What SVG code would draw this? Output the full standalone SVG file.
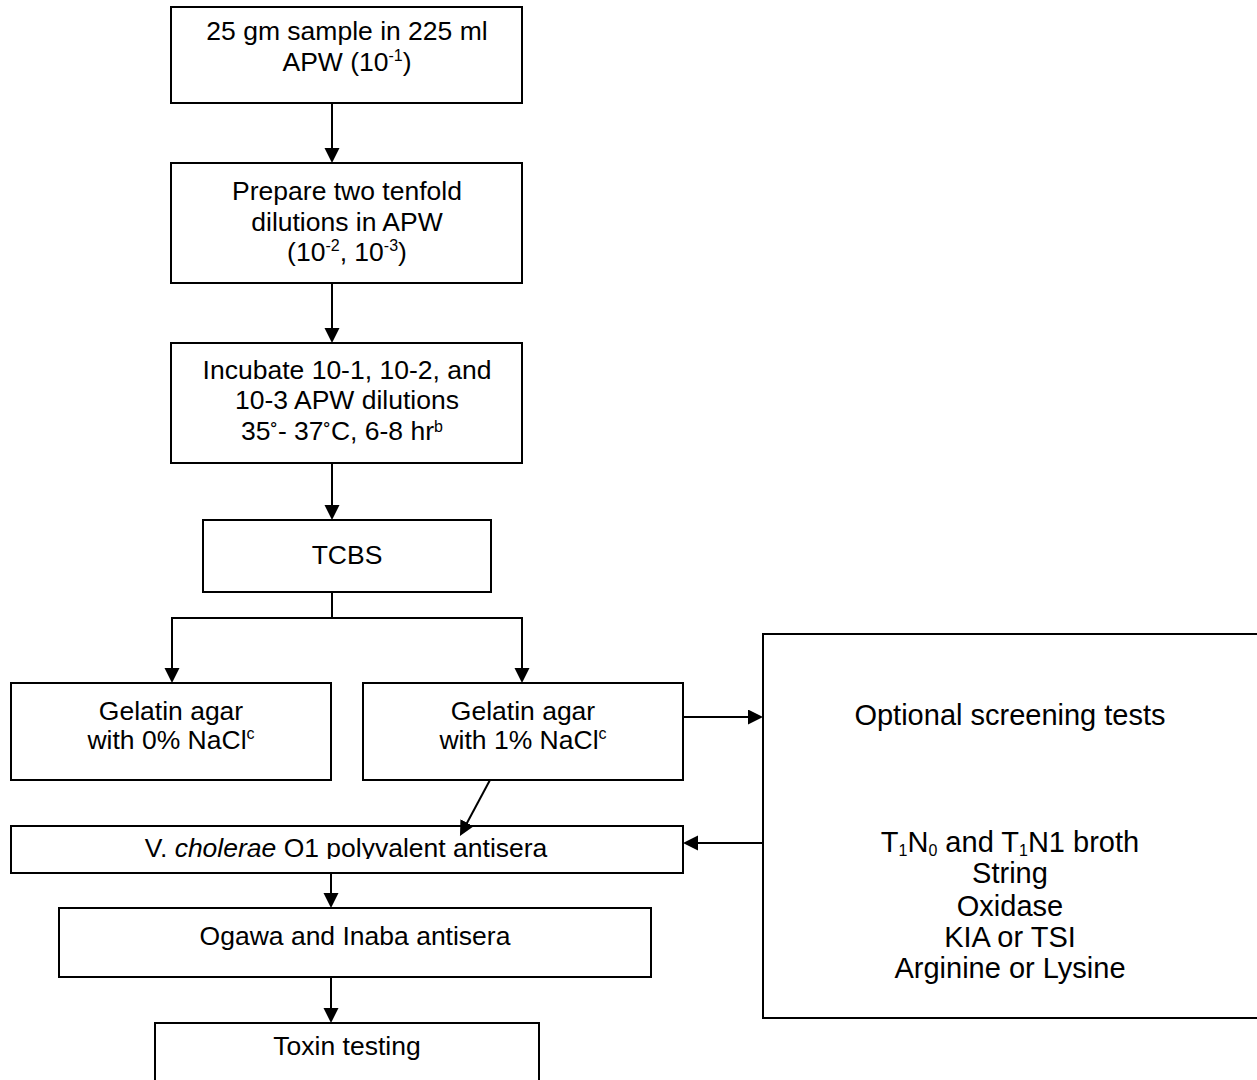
<svg xmlns="http://www.w3.org/2000/svg" width="1257" height="1080" viewBox="0 0 1257 1080">
<style>
.box{fill:#fff;stroke:#000;stroke-width:2}
.t{font-family:"Liberation Sans",Arial,sans-serif;font-size:26.5px;fill:#000;text-anchor:middle}
.r{font-size:29px}
.sup{font-size:16px}
.deg{font-size:22px}
.con{stroke:#000;stroke-width:2;fill:none}
</style>
<defs>
<marker id="ah" markerUnits="userSpaceOnUse" markerWidth="16" markerHeight="16" refX="5" refY="7.5" orient="auto">
<path d="M0,0 L15,7.5 L0,15 z" fill="#000"/>
</marker>
<clipPath id="vclip"><rect x="11" y="826" width="672" height="33"/></clipPath>
</defs>
<rect width="1257" height="1080" fill="#fff"/>

<g id="n1">
<rect class="box" x="171" y="7" width="351" height="96"/>
<text class="t" x="347" y="40">25 gm sample in 225 ml</text>
<text class="t" x="347" y="71">APW (10<tspan class="sup" dy="-10">-1</tspan><tspan dy="10">)</tspan></text>
</g>

<g id="n2">
<rect class="box" x="171" y="163" width="351" height="120"/>
<text class="t" x="347" y="200">Prepare two tenfold</text>
<text class="t" x="347" y="231">dilutions in APW</text>
<text class="t" x="347" y="261">(10<tspan class="sup" dy="-10">-2</tspan><tspan dy="10">, 10</tspan><tspan class="sup" dy="-10">-3</tspan><tspan dy="10">)</tspan></text>
</g>

<g id="n3">
<rect class="box" x="171" y="343" width="351" height="120"/>
<text class="t" x="347" y="379">Incubate 10-1, 10-2, and</text>
<text class="t" x="347" y="409">10-3 APW dilutions</text>
<text class="t" x="342" y="440">35<tspan class="deg">˚</tspan>- 37<tspan class="deg">˚</tspan>C, 6-8 hr<tspan class="sup" dy="-8">b</tspan></text>
</g>

<g id="n4">
<rect class="box" x="203" y="520" width="288" height="72"/>
<text class="t" x="347" y="564">TCBS</text>
</g>

<g id="n5">
<rect class="box" x="11" y="683" width="320" height="97"/>
<text class="t" x="171" y="720">Gelatin agar</text>
<text class="t" x="171" y="749">with 0% NaCl<tspan class="sup" dy="-10">c</tspan></text>
</g>

<g id="n6">
<rect class="box" x="363" y="683" width="320" height="97"/>
<text class="t" x="523" y="720">Gelatin agar</text>
<text class="t" x="523" y="749">with 1% NaCl<tspan class="sup" dy="-10">c</tspan></text>
</g>

<g id="n7">
<rect class="box" x="763" y="634" width="497" height="384"/>
<text class="t r" x="1010" y="725">Optional screening tests</text>
<text class="t r" x="1010" y="852">T<tspan class="sup" dy="4">1</tspan><tspan dy="-4">N</tspan><tspan class="sup" dy="4">0</tspan><tspan dy="-4"> and T</tspan><tspan class="sup" dy="4">1</tspan><tspan dy="-4">N1 broth</tspan></text>
<text class="t r" x="1010" y="883">String</text>
<text class="t r" x="1010" y="916">Oxidase</text>
<text class="t r" x="1010" y="947">KIA or TSI</text>
<text class="t r" x="1010" y="978">Arginine or Lysine</text>
</g>

<g id="n8">
<rect class="box" x="11" y="826" width="672" height="47"/>
<text class="t" x="346" y="857" clip-path="url(#vclip)">V. <tspan font-style="italic">cholerae</tspan> O1 polyvalent antisera</text>
</g>

<g id="n9">
<rect class="box" x="59" y="908" width="592" height="69"/>
<text class="t" x="355" y="945">Ogawa and Inaba antisera</text>
</g>

<g id="n10">
<rect class="box" x="155" y="1023" width="384" height="70"/>
<text class="t" x="347" y="1055">Toxin testing</text>
</g>

<g id="connectors" class="con">
<line x1="332" y1="103" x2="332" y2="153" marker-end="url(#ah)"/>
<line x1="332" y1="283" x2="332" y2="333" marker-end="url(#ah)"/>
<line x1="332" y1="463" x2="332" y2="510" marker-end="url(#ah)"/>
<polyline points="332,592 332,618"/>
<polyline points="172,618 522,618"/>
<line x1="172" y1="617" x2="172" y2="673" marker-end="url(#ah)"/>
<line x1="522" y1="617" x2="522" y2="673" marker-end="url(#ah)"/>
<line x1="683" y1="717" x2="753" y2="717" marker-end="url(#ah)"/>
<line x1="490" y1="780" x2="464.7" y2="827.2" marker-end="url(#ah)"/>
<line x1="763" y1="843" x2="693" y2="843" marker-end="url(#ah)"/>
<line x1="331" y1="873" x2="331" y2="898" marker-end="url(#ah)"/>
<line x1="331" y1="977" x2="331" y2="1013" marker-end="url(#ah)"/>
</g>
</svg>
